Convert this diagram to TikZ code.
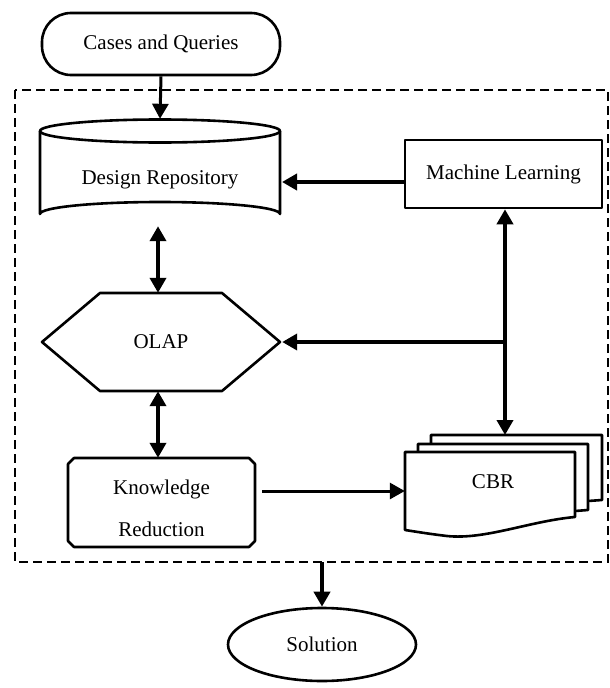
\documentclass[tikz,border=0pt]{standalone}
\usepackage{fontspec}
\setmainfont{Liberation Serif}
\usetikzlibrary{arrows.meta,shapes.geometric,shapes.misc}
\begin{document}
\begin{tikzpicture}[x=1pt,y=-1pt,
  outline/.style={line width=2.6pt, line join=round},
  box/.style={inner sep=0pt, font=\fontsize{21}{24}\selectfont},
  harrow/.style={line width=4.2pt, -{Triangle[length=15pt,width=16pt]}},
  hdarrow/.style={line width=4.2pt, {Triangle[length=15pt,width=16pt]}-{Triangle[length=15pt,width=16pt]}},
  narrow/.style={line width=3pt, -{Triangle[length=15pt,width=16pt]}},
  frame/.style={line width=2.6pt, dash pattern=on 9pt off 5pt}]
\useasboundingbox (0,0) rectangle (610,688);
\fill[white] (0,0) rectangle (610,688);

% dashed frame
\draw[frame] (15,90) rectangle (608,562);

% Cases and Queries
\node[box, outline, draw, rounded corners=29pt, minimum width=238pt, minimum height=62pt] (cases) at (161,44) {Cases and Queries};

% Design Repository (cylinder)
\node[box, minimum width=240pt, minimum height=107pt] (repo) at (160,172.5) {};
\node[box] (repotext) at (160,180) {Design Repository};
\draw[outline] (40,131) -- (40,214) arc[start angle=180, end angle=360, x radius=120pt, y radius=-12pt] -- (280,131);
\draw[outline] (160,131) ellipse[x radius=120pt, y radius=11.5pt];

% Machine Learning
\node[box, outline, draw, minimum width=197pt, minimum height=68pt] (ml) at (503.5,174) {Machine Learning};

% OLAP hexagon
\node[box, minimum width=238pt, minimum height=98pt] (olap) at (161,342) {OLAP};
\draw[outline] (42,342) -- (100,293) -- (222,293) -- (280,342) -- (222,391) -- (100,391) -- cycle;

% Knowledge Reduction
\node[box, minimum width=187pt, minimum height=89pt] (kr) at (161.5,502.5) {};
\node[box, align=center, font=\fontsize{21}{42}\selectfont] (krtext) at (161.5,508) {Knowledge\\Reduction};
\draw[outline] (74,458) -- (249,458) -- (255,464) -- (255,541) -- (249,547) -- (74,547) -- (68,541) -- (68,464) -- cycle;

% CBR multi-document
\draw[outline] (431,444) -- (431,435) -- (602,435) -- (602,500) -- (588,501);
\draw[outline] (418,452) -- (418,444) -- (588,444) -- (588,510) -- (575,511);
\node[box, minimum width=170pt, minimum height=83pt] (cbr) at (490,493) {};
\draw[outline, fill=white] (405,452) -- (575,452) -- (575,517)
   .. controls (530,521) and (485,540) .. (447,536)
   .. controls (430,534) and (418,532) .. (405,530) -- cycle;
\node[box] (cbrtext) at (493,482) {CBR};
\coordinate (cbrtop) at (505,435);
\coordinate (junction) at (505,342);

% Solution
\node[box, outline, draw, ellipse, minimum width=188pt, minimum height=73pt] (sol) at (322,644.5) {Solution};
\coordinate (framebottom) at (322,562);

% connectors
\draw[narrow] (cases.south) -- (repo.north);
\draw[harrow] (ml.west |- 0,182) -- (282,182);
\draw[hdarrow] ([xshift=-2pt]repo.south) -- ([xshift=-3pt]olap.north);
\draw[hdarrow] ([xshift=1.5pt]ml.south) -- (cbrtop);
\draw[harrow] (junction) -- ([xshift=2pt]olap.east);
\draw[hdarrow] ([xshift=-3pt]olap.south) -- ([xshift=-3.5pt]kr.north);
\draw[narrow] (262,491) -- (cbr.west |- 0,491);
\draw[harrow] (framebottom) -- (sol.north);
\end{tikzpicture}
\end{document}
